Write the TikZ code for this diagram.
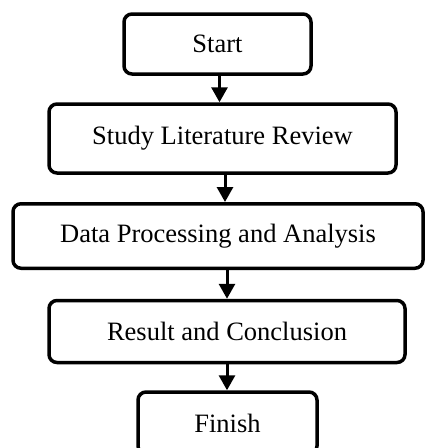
\documentclass[tikz,border=0pt]{standalone}
\usepackage{fontspec}
\setmainfont{Liberation Serif}
\usetikzlibrary{arrows.meta}

\begin{document}
\begin{tikzpicture}[
  x=1pt, y=-1pt,
  stage/.style={rectangle, draw, line width=3.5pt, rounded corners=8pt, inner sep=0pt, font=\fontsize{26.5}{30}\selectfont, align=center},
  flow/.style={line width=3pt, -{Triangle[width=16pt,length=15pt]}}
]
\useasboundingbox (0,0) rectangle (425,448);
\clip (0,0) rectangle (425,448);

% Stages, top to bottom
\node[stage, minimum width=187pt, minimum height=60pt] (start) at (217.5,44) {Start};
\node[stage, minimum width=347pt, minimum height=69pt] (study) at (222.5,138.5) {Study Literature Review};
\node[stage, minimum width=410pt, minimum height=64.5pt] (data) at (218,236) {Data Processing and Analysis};
\node[stage, minimum width=356pt, minimum height=62pt] (result) at (227,331.5) {Result and Conclusion};
\node[stage, minimum width=179pt, minimum height=62pt] (finish) at (227.5,423) {Finish};

% Arrows between stages (vertical)
\draw[flow] ([xshift=2pt]start.south) -- ([xshift=2pt]start.south |- study.north);
\draw[flow] ([xshift=2.5pt]study.south) -- ([xshift=2.5pt]study.south |- data.north);
\draw[flow] (result.north |- data.south) -- (result.north);
\draw[flow] (result.south) -- (result.south |- finish.north);

\end{tikzpicture}
\end{document}
